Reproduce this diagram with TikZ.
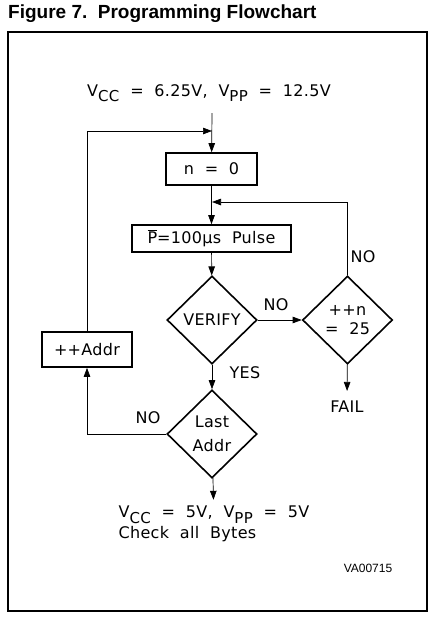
\documentclass[tikz,border=0pt]{standalone}
\usepackage{fontspec}
\setmainfont{Liberation Sans}
\newfontfamily\plotfont{DejaVu Sans}[LetterSpace=2,WordSpace=2]
\usetikzlibrary{shapes.geometric,arrows.meta}
\newcommand{\vsub}[1]{\raisebox{-5.5pt}{\fontsize{15}{15}\selectfont #1}}
\tikzstyle{procbox}=[rectangle,draw=black,line width=1.6pt,inner sep=0pt,
                     font=\plotfont\fontsize{16}{18}\selectfont]
\tikzstyle{decision}=[diamond,draw=black,line width=1.6pt,inner sep=0pt,
                      minimum width=90pt,minimum height=88pt,align=center,
                      font=\plotfont\fontsize{16}{19}\selectfont]
\tikzstyle{txt}=[inner sep=0pt,align=center,
                 font=\plotfont\fontsize{16}{21}\selectfont]
\tikzstyle{flow}=[line width=0.7pt,-{Triangle[length=9pt,width=6.5pt]}]

\begin{document}
\begin{tikzpicture}[x=1pt,y=-1pt]
    \useasboundingbox (0,0) rectangle (442,622);
    \node (title) at (8,14) [anchor=west,inner sep=0pt,
          font=\bfseries\fontsize{19}{22}\selectfont]
          {Figure 7.\ \ Programming Flowchart};
    \draw[line width=1.2pt] (8,32) rectangle (427,611);
    % start and end conditions
    \node (vcc1) at (209,93) [txt]
          {V\vsub{CC} = 6.25V, V\vsub{PP} = 12.5V};
    \node (vcc2) at (214,524) [txt,align=left]
          {V\vsub{CC} = 5V, V\vsub{PP} = 5V\\Check all Bytes};
    \node (code) at (368,568) [inner sep=0pt,font=\fontsize{12}{14}\selectfont]
          {VA00715};
    % boxes and decisions
    \node (nzero) at (211.5,169) [procbox,minimum width=91pt,minimum height=32pt]
          {n = 0};
    \node (pulse) at (211.5,238.5) [procbox,minimum width=159pt,minimum height=27pt]
          {$\overline{\mbox{P}}$=100µs Pulse};
    \node (verify) at (212,320) [decision] {VERIFY};
    \node (count) at (347.5,320) [decision] {++n\\= 25};
    \node (last) at (212,434) [decision,font=\plotfont\fontsize{16}{24}\selectfont]
          {Last\\Addr};
    \node (addr) at (87,349.5) [procbox,minimum width=90pt,minimum height=35pt]
          {++Addr};
    \node (fail) at (347,407) [txt] {FAIL};
    % answers
    \node (no1) at (363,257) [txt] {NO};
    \node (no2) at (276,305) [txt] {NO};
    \node (yes) at (245,373) [txt] {YES};
    \node (no3) at (148,418) [txt] {NO};
    % junctions
    \coordinate (c1) at (212,113);
    \coordinate (j1) at (212,131);
    \coordinate (j2) at (212,202);
    \draw[flow] (c1) -- (nzero);
    \draw[flow] (addr) |- (j1);
    \draw[flow] (nzero) -- (pulse);
    \draw[flow] (count) |- (j2);
    \draw[flow] (pulse) -- (verify);
    \draw[flow] (verify) -- (count);
    \draw[flow,shorten >=10pt] (count) -- (fail);
    \draw[flow] (verify) -- (last);
    \draw[flow] (last) -| (addr);
    \draw[flow,shorten >=6pt] (last) -- (vcc2);
\end{tikzpicture}
\end{document}
